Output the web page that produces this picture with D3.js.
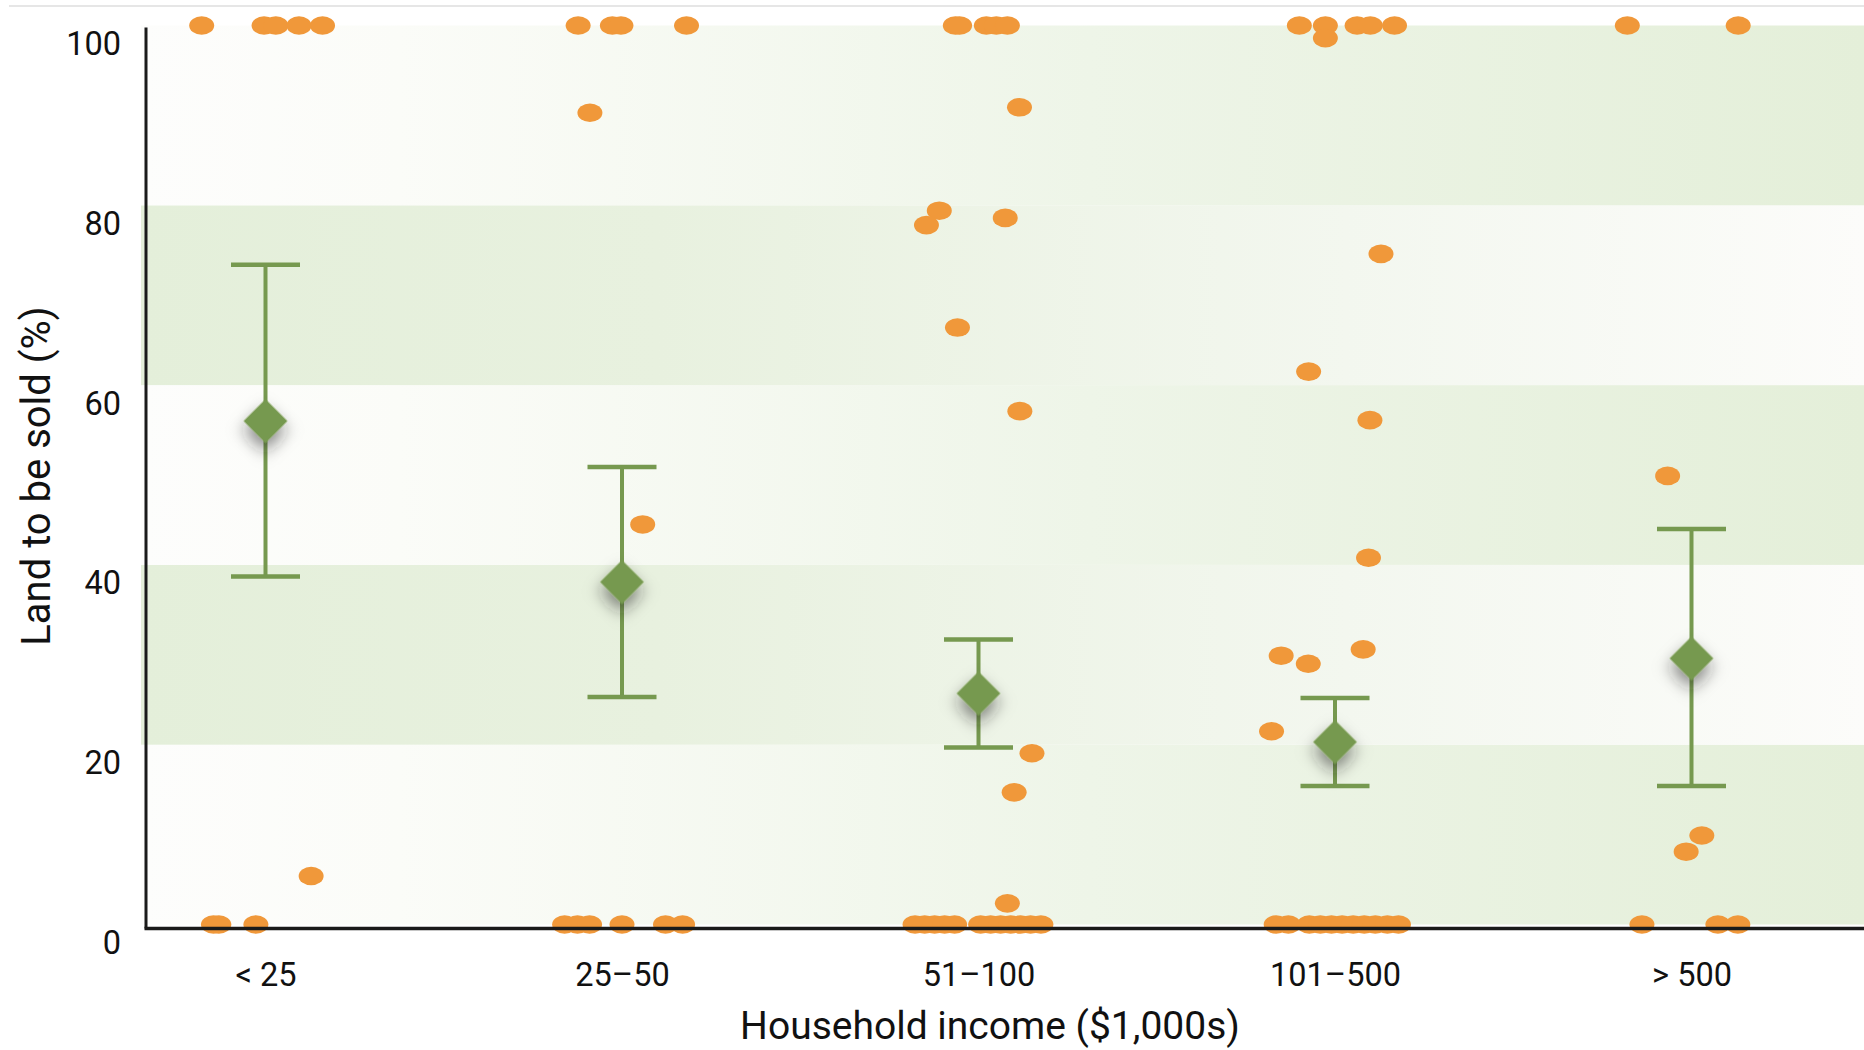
<!DOCTYPE html>
<html><head><meta charset="utf-8">
<script src="https://cdn.jsdelivr.net/npm/d3@7"></script>
<style>
html,body{margin:0;padding:0;background:#fff;}
svg{display:block;}
text{font-family:Roboto,"Liberation Sans",sans-serif;fill:#111;}
</style></head><body>
<svg id="chart" width="1864" height="1050"></svg>
<script>
// ---- data ----
const categories = ["< 25", "25–50", "51–100", "101–500", "> 500"];
const meanValues  = [56.0, 38.1, 25.7, 20.3, 29.6];
const upperValues = [73.4, 50.9, 31.7, 25.2, 44.0];
const lowerValues = [38.7, 25.3, 19.7, 15.4, 15.4];
const yTickValues = [0, 20, 40, 60, 80, 100];
const bandEdges   = [0, 20, 40, 60, 80, 100];
const xTitle = "Household income ($1,000s)";
const yTitle = "Land to be sold (%)";

// individual responses per category (value, horizontal jitter in category units)
const dotValues = [
  [100,100,100,100,100, 0,0,0, 5.4],
  [100,100,100,100, 90.3, 44.5, 0,0,0,0,0,0],
  [100,100,100,100,100, 90.9, 79.4, 77.8, 78.6, 66.4, 57.1, 19.05, 14.7, 2.35, 0,0,0,0,0,0,0,0,0,0,0,0],
  [100,100,100,100,100, 98.6, 74.6, 61.5, 56.1, 40.8, 30.6, 29.9, 29.0, 21.5, 0,0,0,0,0,0,0,0,0,0,0],
  [100,100, 49.9, 9.9, 8.1, 0,0,0]
];
const dotJitters = [
  [-0.179,-0.004,0.029,0.094,0.160, -0.146,-0.131,-0.027, 0.128],
  [-0.123,-0.027,-0.003,0.181, -0.090, 0.058, -0.161,-0.125,-0.091,0,0.122,0.170],
  [-0.065,-0.053,0.022,0.050,0.081, 0.115,-0.110,-0.146,0.075,-0.059,0.116,0.150,0.100,0.081, -0.178,-0.151,-0.123,-0.095,-0.067,0.006,0.034,0.062,0.090,0.118,0.146,0.175],
  [-0.100,-0.027,0.062,0.099,0.167, -0.027,0.129,-0.074,0.098,0.094,0.079,-0.151,-0.075,-0.178, -0.165,-0.131,-0.072,-0.041,-0.010,0.020,0.051,0.082,0.113,0.147,0.178],
  [-0.180,0.131, -0.067,0.029,-0.015, -0.139,0.074,0.130]
];

// ---- layout ----
const W = 1864, H = 1050;
const axisX = 146, axisY = 928.6;
const green = "#76994f", orange = "#f0983a";

const svg = d3.select("#chart");
const x = d3.scaleLinear().domain([0, categories.length - 1]).range([265.5, 1691.5]);
const y = d3.scaleLinear().domain([0, 100]).range([924.5, 25.5]);

const defs = svg.append("defs");
function grad(id, stops) {
  const g = defs.append("linearGradient").attr("id", id)
    .attr("gradientUnits", "userSpaceOnUse")
    .attr("x1", 141).attr("x2", W).attr("y1", 0).attr("y2", 0);
  stops.forEach(s => g.append("stop").attr("offset", s[0]).attr("stop-color", s[1]));
}
grad("gWhiteLeft", [[0, "#fdfdfc"], [0.15, "#fbfcf8"], [0.55, "#eef5e8"], [1, "#e4efd9"]]);
grad("gGreenLeft", [[0, "#e4efda"], [0.3, "#e8f1df"], [0.7, "#f3f7ef"], [1, "#fcfcfa"]]);

const f = defs.append("filter").attr("id", "shadow")
  .attr("x", "-100%").attr("y", "-100%").attr("width", "300%").attr("height", "300%");
f.append("feDropShadow").attr("dx", 6).attr("dy", 7).attr("stdDeviation", 8)
  .attr("flood-color", "#222").attr("flood-opacity", 0.5);

// top hairline
svg.append("line").attr("x1", 9).attr("x2", W).attr("y1", 6).attr("y2", 6)
  .attr("stroke", "#e6e6e6").attr("stroke-width", 2);

// bands
const bands = d3.range(bandEdges.length - 1).map(i => ({lo: bandEdges[i], hi: bandEdges[i + 1], i}));
svg.append("g").selectAll("rect").data(bands).join("rect")
  .attr("x", 141).attr("width", W - 141)
  .attr("y", d => y(d.hi)).attr("height", d => y(d.lo) - y(d.hi))
  .attr("fill", d => d.i % 2 === 0 ? "url(#gWhiteLeft)" : "url(#gGreenLeft)");

// error bars
const eb = svg.append("g").attr("stroke", green).attr("fill", "none");
categories.forEach((c, i) => {
  const cx = x(i);
  eb.append("line").attr("x1", cx).attr("x2", cx)
    .attr("y1", y(upperValues[i])).attr("y2", y(lowerValues[i])).attr("stroke-width", 4);
  [upperValues[i], lowerValues[i]].forEach(v => {
    eb.append("line").attr("x1", cx - 34.5).attr("x2", cx + 34.5)
      .attr("y1", y(v)).attr("y2", y(v)).attr("stroke-width", 4.5);
  });
});

// means (diamonds)
const sym = d3.symbol().type(d3.symbolSquare).size(960);
svg.append("g").selectAll("path").data(meanValues).join("path")
  .attr("d", sym)
  .attr("transform", (d, i) => `translate(${x(i)},${y(d)}) rotate(45)`)
  .attr("fill", green).attr("filter", "url(#shadow)");

// dots
const dots = [];
dotValues.forEach((vals, gi) => vals.forEach((v, k) => dots.push({g: gi, v, j: dotJitters[gi][k]})));
svg.append("g").selectAll("ellipse").data(dots).join("ellipse")
  .attr("cx", d => x(d.g + d.j)).attr("cy", d => y(d.v))
  .attr("rx", 12.5).attr("ry", 9.3).attr("fill", orange);

// y axis
const yAxis = svg.append("g").attr("transform", `translate(${axisX},0)`)
  .call(d3.axisLeft(y).tickValues(yTickValues).tickSize(0).tickSizeOuter(0).tickPadding(25));
yAxis.select(".domain").attr("stroke", "#1a1a1a").attr("stroke-width", 3)
  .attr("d", `M0,${y(100) + 2}V${axisY}`);
yAxis.selectAll("text").attr("dy", 29).attr("font-size", 32.5)
  .attr("font-family", "Roboto, sans-serif").attr("fill", "#111");

// x axis
const xAxis = svg.append("g").attr("transform", `translate(0,${axisY})`)
  .call(d3.axisBottom(x).tickValues(d3.range(categories.length)).tickFormat(i => categories[i]).tickSize(0).tickSizeOuter(0));
xAxis.select(".domain").attr("stroke", "#1a1a1a").attr("stroke-width", 3.5)
  .attr("d", `M${axisX - 1.5},0H${W}`);
xAxis.selectAll("text").attr("y", 57).attr("dy", 0).attr("font-size", 32.5)
  .attr("font-family", "Roboto, sans-serif").attr("fill", "#111");

// titles
svg.append("text").attr("x", 990).attr("y", 1039).attr("text-anchor", "middle")
  .attr("font-size", 39).text(xTitle);
svg.append("text").attr("transform", "translate(50,476) rotate(-90)")
  .attr("text-anchor", "middle").attr("font-size", 40).text(yTitle);
</script>
</body></html>
